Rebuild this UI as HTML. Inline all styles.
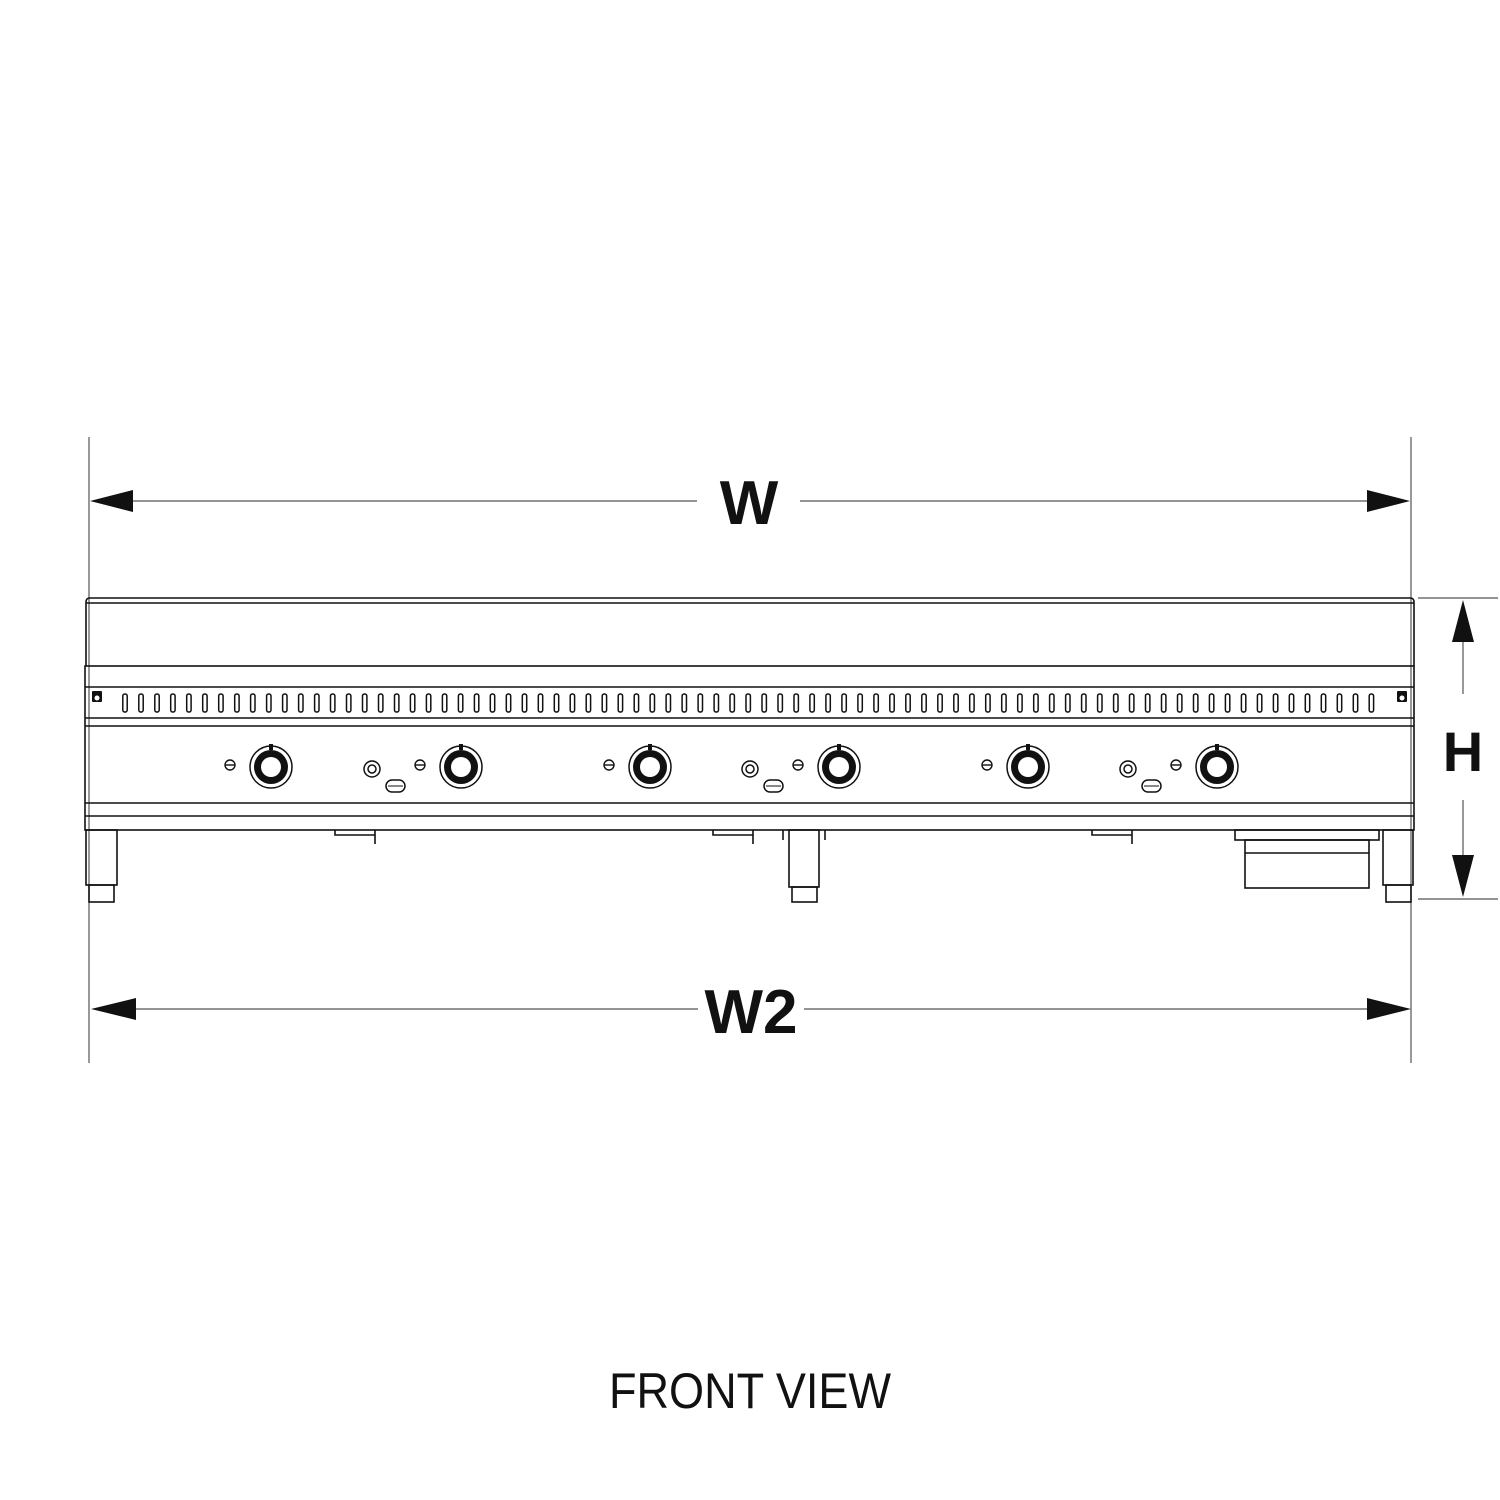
<!DOCTYPE html>
<html><head><style>html,body{margin:0;padding:0;background:#fff}svg{display:block}</style></head>
<body>
<svg width="1500" height="1500" viewBox="0 0 1500 1500" xmlns="http://www.w3.org/2000/svg">
<g stroke="#555" stroke-width="1.2" fill="none">
<line x1="89" y1="437" x2="89" y2="1063"/>
<line x1="1411" y1="437" x2="1411" y2="1063"/>
<line x1="132" y1="501" x2="1368" y2="501"/>
<line x1="134" y1="1009" x2="1368" y2="1009"/>
<line x1="1463" y1="640" x2="1463" y2="856"/>
<line x1="1418" y1="598" x2="1498" y2="598"/>
<line x1="1418" y1="899" x2="1498" y2="899"/>
</g>
<g fill="#111">
<polygon points="90,501 133,490 133,512"/>
<polygon points="1410,501 1367,490 1367,512"/>
<polygon points="91,1009 136,998 136,1020"/>
<polygon points="1411,1009 1367,998 1367,1020"/>
<polygon points="1463,600 1452,642 1474,642"/>
<polygon points="1463,897 1452,855 1474,855"/>
</g>
<rect x="697" y="447" width="103" height="105" fill="#fff"/>
<rect x="698" y="957" width="106" height="103" fill="#fff"/>
<rect x="1436" y="694" width="61" height="106" fill="#fff"/>
<g font-family="Liberation Sans, sans-serif" font-weight="bold" fill="#111" text-anchor="middle">
<text x="749" y="524" font-size="62">W</text>
<text x="751" y="1033" font-size="62">W2</text>
<text x="1463" y="771" font-size="56">H</text>
</g>
<text x="609" y="1408" font-family="Liberation Sans, sans-serif" font-size="50" fill="#111" textLength="282" lengthAdjust="spacingAndGlyphs">FRONT VIEW</text>
<g stroke="#111" fill="none" stroke-width="1.6">
<path d="M86,666 V602 Q86,598 90,598 H1410 Q1414,598 1414,602 V666"/>
<line x1="86" y1="603" x2="1414" y2="603"/>
<rect x="85" y="666" width="1329" height="164"/>
<line x1="85" y1="687" x2="1414" y2="687"/>
<line x1="85" y1="718" x2="1414" y2="718"/>
<line x1="85" y1="726" x2="1414" y2="726"/>
<line x1="85" y1="803" x2="1414" y2="803"/>
<line x1="85" y1="816" x2="1414" y2="816"/>
<rect x="86" y="830" width="31" height="55"/>
<rect x="89" y="885" width="25" height="17"/>
<rect x="1383" y="830" width="30" height="55"/>
<rect x="1386" y="885" width="25" height="17"/>
<rect x="789" y="830" width="30" height="57"/>
<rect x="792" y="887" width="25" height="15"/>
<line x1="783" y1="830" x2="783" y2="840"/><line x1="825" y1="830" x2="825" y2="840"/>
<rect x="1245" y="840" width="124" height="48"/>
<line x1="1245" y1="853" x2="1369" y2="853"/>
<rect x="1235" y="830" width="144" height="10"/>
</g>
<g stroke="#111" fill="none" stroke-width="1.6">
<path d="M335,830 v5 h40 M375,830 v14"/>
<path d="M713,830 v5 h40 M753,830 v14"/>
<path d="M1092,830 v5 h40 M1132,830 v14"/>
</g>
<g fill="#111"><rect x="92" y="691" width="10" height="11" rx="1"/><rect x="1397" y="691" width="10" height="11" rx="1"/></g>
<g fill="#fff"><circle cx="97" cy="698" r="2.5"/><circle cx="1402" cy="698" r="2.5"/></g>
<g id="slots" stroke="#111" stroke-width="1.5" fill="none"></g>
<g id="ctrl"></g>
</svg>
<script>
var s='';
for(var i=0;i<79;i++){var x=125+i*15.98;s+='<rect x="'+(x-2.2).toFixed(1)+'" y="694" width="4.4" height="18" rx="2"/>';}
document.getElementById('slots').innerHTML=s;
var c='';
[271,461,650,839,1028,1217].forEach(function(x,i){
c+='<circle cx="'+x+'" cy="767" r="21" fill="none" stroke="#111" stroke-width="1.5"/>';
c+='<circle cx="'+x+'" cy="767" r="17" fill="#111"/>';
c+='<circle cx="'+x+'" cy="767" r="10" fill="#fff"/>';
c+='<rect x="'+(x-2)+'" y="744" width="4" height="6" fill="#111"/>';
var sx=x-41;
c+='<circle cx="'+sx+'" cy="765" r="5" fill="none" stroke="#111" stroke-width="1.4"/><line x1="'+(sx-5)+'" y1="765" x2="'+(sx+5)+'" y2="765" stroke="#111" stroke-width="1.4"/>';
if(i%2==1){var rx=x-89;
c+='<circle cx="'+rx+'" cy="769" r="8" fill="none" stroke="#111" stroke-width="1.5"/><circle cx="'+rx+'" cy="769" r="4" fill="none" stroke="#111" stroke-width="1.5"/>';
c+='<rect x="'+(x-75)+'" y="780" width="19" height="12" rx="6" fill="none" stroke="#111" stroke-width="1.5"/><line x1="'+(x-73)+'" y1="786" x2="'+(x-58)+'" y2="786" stroke="#111"/>';}
});
document.getElementById('ctrl').innerHTML=c;
</script>
</body></html>
